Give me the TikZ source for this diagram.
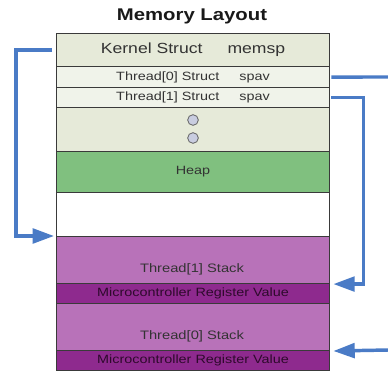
\documentclass[tikz,border=0pt]{standalone}
\usepackage{fontspec}
\usepackage{graphicx}
\setmainfont{Liberation Sans}
\usetikzlibrary{arrows.meta}
\newcommand{\hwide}[1]{\scalebox{1.2}[1.0]{#1}}
\definecolor{kgrey}{HTML}{E6EAD9}
\definecolor{tgrey}{HTML}{F0F3EA}
\definecolor{heapg}{HTML}{80C07F}
\definecolor{stackp}{HTML}{B872B9}
\definecolor{regp}{HTML}{8E2A8E}
\definecolor{arrb}{HTML}{4A7BC6}
\definecolor{bord}{HTML}{3A3A3A}
\definecolor{regtxt}{HTML}{2E0A2C}
\definecolor{txt}{HTML}{333333}
\definecolor{dotf}{HTML}{C9CDE0}
\tikzset{
  row/.style={draw=bord, line width=0.8pt, anchor=north west, inner sep=0pt,
    minimum width=204.75pt, font=\fontsize{9}{10}\selectfont, text=txt},
  arr/.style={draw=arrb, line width=2.6pt, -{Triangle[length=16pt,width=11pt]}},
  ln/.style={draw=arrb, line width=2.6pt},
  dot/.style={circle, draw=bord!80, fill=dotf, line width=0.6pt, minimum size=8pt, inner sep=0pt},
  lbl/.style={font=\fontsize{9.2}{10}\selectfont, text=txt, inner sep=0pt},
}
\begin{document}
\begin{tikzpicture}[x=0.75pt,y=-0.75pt]
\useasboundingbox (0,0) rectangle (388,371);
\node[font=\bfseries\fontsize{12.7}{14}\selectfont, text=black!90] (title) at (192,16) {\hwide{Memory Layout}};
% rows
\node[row, fill=kgrey, minimum height=24.75pt, font=\fontsize{11}{12}\selectfont] (kern) at (56,33) {\hwide{Kernel Struct\hspace{15.6pt}memsp}};
\node[row, fill=tgrey, minimum height=15.75pt] (t0) at (56,66) {\hwide{Thread[0] Struct\hspace{12.5pt}spav}};
\node[row, fill=tgrey, minimum height=15pt] (t1) at (56,87) {\hwide{Thread[1] Struct\hspace{12.5pt}spav}};
\node[row, fill=kgrey, minimum height=33pt] (dots) at (56,107) {};
\node[dot] (d1) at (193,120) {};
\node[dot] (d2) at (193,138) {};
\node[row, fill=heapg, minimum height=30.75pt] (heap) at (56,151) {\hwide{Heap}};
\node[row, fill=white, minimum height=33pt] (free) at (56,192) {};
\node[row, fill=stackp, minimum height=35.25pt] (st1) at (56,236) {};
\node[lbl] (st1t) at (192,269) {\hwide{Thread[1] Stack}};
\node[row, fill=regp, minimum height=15pt, text=regtxt] (r1) at (56,283) {\hwide{Microcontroller Register Value}};
\node[row, fill=stackp, minimum height=35.25pt] (st0) at (56,303) {};
\node[lbl] (st0t) at (192,336) {\hwide{Thread[0] Stack}};
\node[row, fill=regp, minimum height=15pt, text=regtxt] (r0) at (56,350) {\hwide{Microcontroller Register Value}};
% connectors
\coordinate (out0) at (388,77);
\coordinate (in0) at (388,350);
\draw[arr, shorten >=1.5pt] ([xshift=-3pt]kern.west) -- ++(-36,0) |- (st1.north west);
\draw[ln] ([xshift=1pt]t0.east) -- (out0);
\draw[arr, shorten >=2.5pt] ([xshift=1pt]t1.east) -- ++(32,0) |- (st1.south east);
\draw[arr, shorten >=2.5pt] (in0) -- (st0.south east);
\end{tikzpicture}
\end{document}
